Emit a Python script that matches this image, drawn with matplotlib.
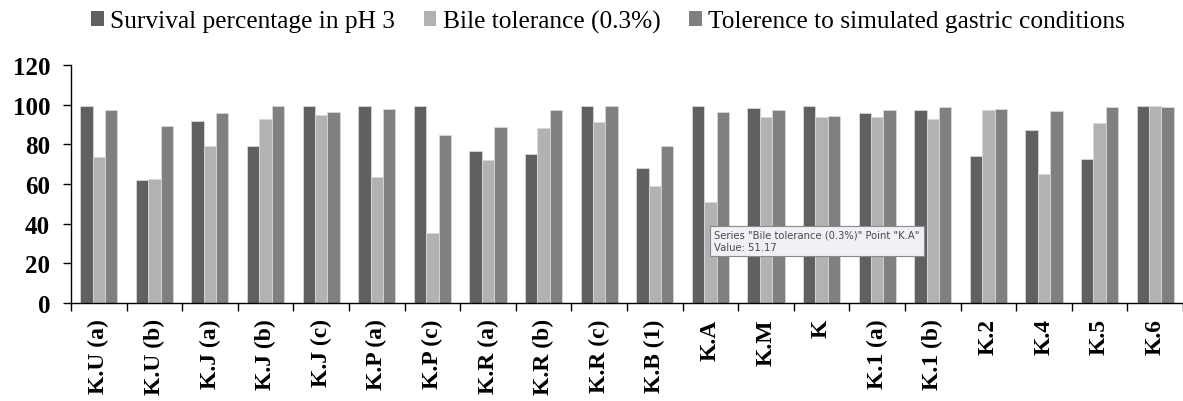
import matplotlib
matplotlib.use("Agg")
import matplotlib.pyplot as plt
import numpy as np

categories = ["K.U (a)", "K.U (b)", "K.J (a)", "K.J (b)", "K.J (c)", "K.P (a)", "K.P (c)",
              "K.R (a)", "K.R (b)", "K.R (c)", "K.B (1)", "K.A", "K.M", "K", "K.1 (a)",
              "K.1 (b)", "K.2", "K.4", "K.5", "K.6"]
survival_ph3 = [99.5, 62.0, 91.8, 79.3, 99.5, 99.2, 99.5, 76.5, 75.1, 99.5, 68.1, 99.2, 98.2,
                99.5, 96.0, 97.3, 74.3, 87.1, 72.5, 99.2]
bile_tolerance = [73.5, 62.5, 79.0, 92.6, 95.0, 63.5, 35.3, 72.0, 88.4, 91.3, 58.8, 51.17, 93.6,
                  93.6, 93.6, 92.6, 97.3, 64.9, 90.8, 99.5]
gastric = [97.3, 89.3, 96.0, 99.5, 96.3, 97.7, 84.6, 88.8, 97.3, 99.5, 79.0, 96.3, 97.3,
           94.1, 97.3, 98.6, 97.7, 96.8, 98.6, 98.6]
series_names = ["Survival percentage in pH 3", "Bile tolerance (0.3%)",
                "Tolerence to simulated gastric conditions"]
yticks = [0, 20, 40, 60, 80, 100, 120]

colors = ["#606060", "#b2b2b2", "#808080"]

fig = plt.figure(figsize=(11.83, 4.02), dpi=100)
ax = fig.add_axes([0.060, 0.2438, 0.940, 0.592])

x = np.arange(len(categories))
w = 0.222
for k, (vals, c, name) in enumerate(zip([survival_ph3, bile_tolerance, gastric], colors, series_names)):
    ax.bar(x + (k - 1) * w, vals, width=w, color=c, edgecolor="#d8d8d8", linewidth=0.6, label=name)

ax.set_xlim(-0.5, len(categories) - 0.5)
ax.set_ylim(0, 120)
ax.set_yticks(yticks)
ax.set_yticklabels([str(v) for v in yticks], fontfamily="Liberation Serif", fontweight="bold", fontsize=18)
ax.tick_params(axis="y", length=6, width=1, direction="out", pad=9)

ax.set_xticks(np.arange(len(categories) + 1) - 0.5)
ax.set_xticklabels([])
ax.tick_params(axis="x", which="major", length=6, width=1, direction="out")
ax.set_xticks(x, minor=True)
ax.set_xticklabels(categories, minor=True, rotation=90, fontfamily="Liberation Serif",
                   fontweight="bold", fontsize=17, va="top", ha="center")
ax.tick_params(axis="x", which="minor", length=0, pad=11)

for s in ["top", "right"]:
    ax.spines[s].set_visible(False)
ax.spines["left"].set_linewidth(1)
ax.spines["bottom"].set_linewidth(1)

leg = fig.legend(loc="upper center", bbox_to_anchor=(0.514, 1.03), ncol=3, frameon=False,
                 prop={"family": "Liberation Serif", "size": 18.3}, handlelength=0.49,
                 handleheight=0.49, handletextpad=0.24, columnspacing=1.14)
for h in leg.legend_handles:
    h.set_edgecolor("none")

ax.annotate('Series "Bile tolerance (0.3%)" Point "K.A"\nValue: 51.17', xy=(11, 51.17),
            xytext=(714, 160), textcoords="figure pixels", fontsize=7.2, fontfamily="DejaVu Sans",
            color="#4a4a4a", va="center", ha="left", linespacing=1.35,
            bbox=dict(boxstyle="square,pad=0.4", facecolor="#f0f0f6", edgecolor="#8a8a8a", linewidth=0.8))

fig.savefig("out.png", dpi=100)
